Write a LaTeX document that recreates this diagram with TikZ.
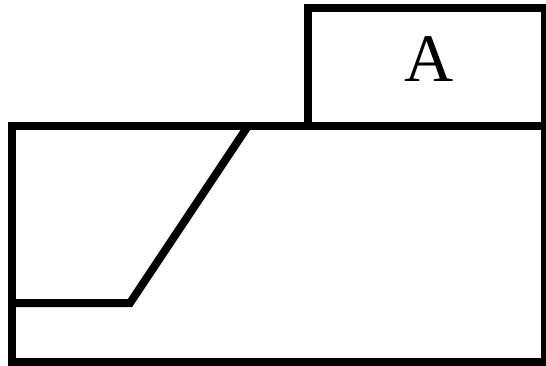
\documentclass[tikz,border=0pt]{standalone}
\usepackage{fontspec}
\setmainfont{Liberation Serif}
\usetikzlibrary{positioning}

\begin{document}
\begin{tikzpicture}[x=1pt, y=-1pt,
                    wall/.style={line width=8pt, black},
                    label node/.style={inner sep=0pt, font=\fontsize{68}{68}\selectfont}]

    \useasboundingbox (0,0) rectangle (546,366);

    % outline of the lower block
    \coordinate (baseNW) at (12,126);
    \coordinate (baseSE) at (544.5,362);
    \draw[wall] (baseNW) rectangle (baseSE);

    % block A on top
    \coordinate (boxNW) at (307.5,8);
    \coordinate (boxSE) at (544.5,126);
    \draw[wall] (boxNW) rectangle (boxSE);
    \node[label node] (labelA) at (429,59.5) {A};

    % slope line
    \coordinate (slopeL)   at (12,303);
    \coordinate (slopeBot) at (130,303);
    \coordinate (slopeTop) at (248,126);
    \draw[wall] (slopeL) -- (slopeBot) -- (slopeTop);

\end{tikzpicture}
\end{document}
